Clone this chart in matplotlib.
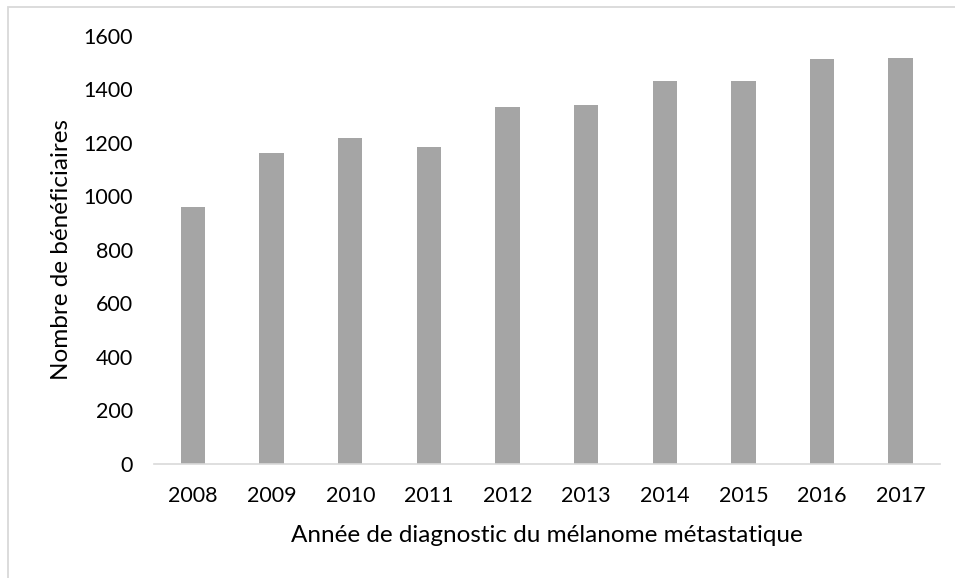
import matplotlib.pyplot as plt
from matplotlib.patches import Rectangle

years = ["2008", "2009", "2010", "2011", "2012", "2013", "2014", "2015", "2016", "2017"]
beneficiaires = [960, 1160, 1218, 1185, 1332, 1341, 1431, 1432, 1513, 1515]
yticks = [0, 200, 400, 600, 800, 1000, 1200, 1400, 1600]

plt.rcParams["font.family"] = ["Lato", "DejaVu Sans"]

W, H = 955, 578
fig = plt.figure(figsize=(W / 100, H / 100), dpi=100)

# outer chart frame
fig.patches.append(Rectangle((8 / W, -0.1), 1.2, (H - 6.5) / H + 0.1,
                             transform=fig.transFigure, fill=False,
                             edgecolor="#D9D9D9", linewidth=1.3))

left, right = 153.7 / W, 940 / W
bottom, top = (H - 463.7) / H, (H - 35.7) / H
ax = fig.add_axes([left, bottom, right - left, top - bottom])

x = range(len(years))
ax.bar(x, beneficiaires, width=0.31, color="#A5A5A5", edgecolor="none")

ax.set_xlim(-0.5, len(years) - 0.5)
ax.set_ylim(0, 1600)
ax.set_xticks(list(x))
ax.set_xticklabels(years)
ax.set_yticks(yticks)
ax.set_yticklabels([str(v) for v in yticks])
ax.tick_params(axis="both", length=0, labelsize=15.5, colors="black")
ax.tick_params(axis="y", pad=15)
ax.tick_params(axis="x", pad=16)

for s in ["top", "right", "left"]:
    ax.spines[s].set_visible(False)
ax.spines["bottom"].set_color("#D9D9D9")
ax.spines["bottom"].set_linewidth(1.2)

ax.set_ylabel("Nombre de bénéficiaires", fontsize=17.5)
ax.set_xlabel("Année de diagnostic du mélanome métastatique", fontsize=17.5)
ax.xaxis.set_label_coords((547 / W - left) / (right - left), (H - 535 - H * bottom) / (H * (top - bottom)))
ax.yaxis.set_label_coords((61 / W - left) / (right - left), ((H - 250) - H * bottom) / (H * (top - bottom)))
ax.xaxis.label.set_va("center")
ax.yaxis.label.set_va("center")

fig.savefig("out.png", dpi=100)
